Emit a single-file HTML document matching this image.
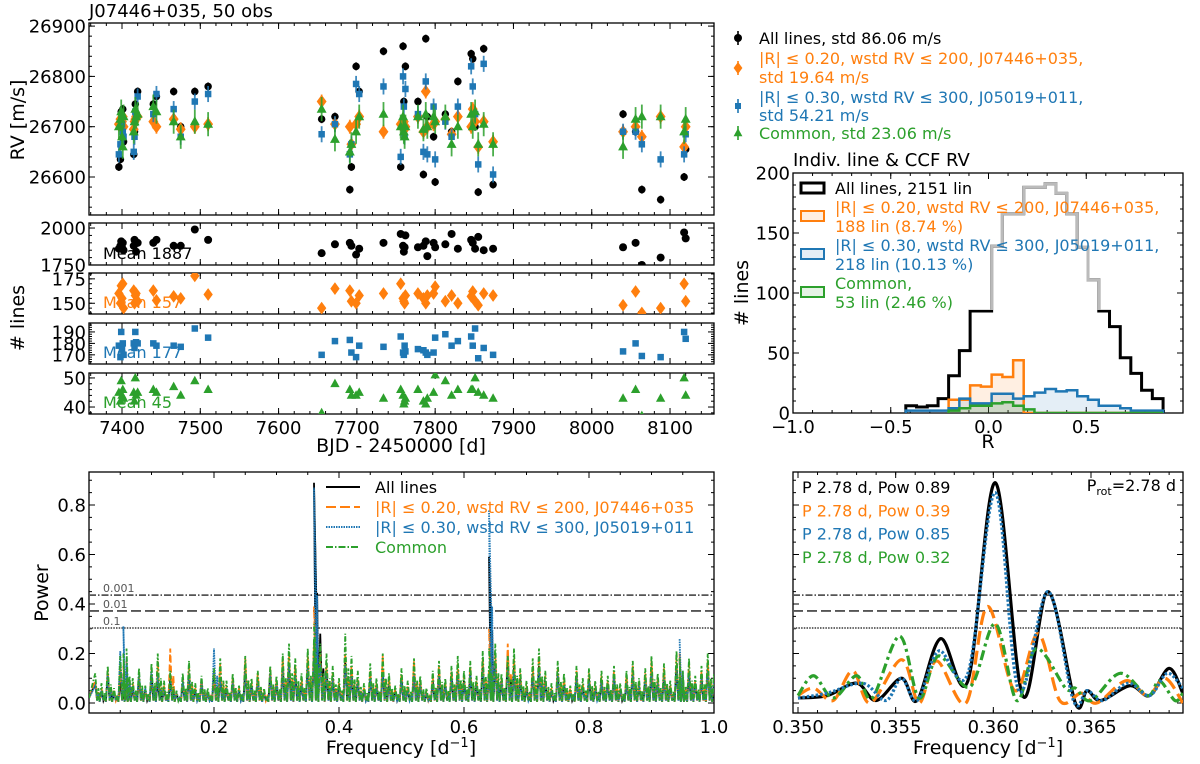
<!DOCTYPE html>
<html><head><meta charset="utf-8"><style>
html,body{margin:0;padding:0;background:#fff;}
svg{display:block;font-family:"DejaVu Sans","Liberation Sans",sans-serif;}
</style></head><body>
<svg id="chart" width="1200" height="764" viewBox="0 0 1200 764" xmlns="http://www.w3.org/2000/svg">
<defs>
<clipPath id="c-rv"><rect x="89" y="23" width="625" height="192"/></clipPath>
<clipPath id="c-hist"><rect x="793" y="173" width="390" height="240"/></clipPath>
<clipPath id="c-grey"><rect x="793" y="173" width="390" height="137"/></clipPath>
<clipPath id="c-pl"><rect x="89" y="472" width="625" height="241"/></clipPath>
<clipPath id="c-pr"><rect x="793" y="472" width="390" height="241"/></clipPath>
</defs>
<text x="89" y="17" font-size="18">J07446+035, 50 obs</text>
<text transform="translate(24,120) rotate(-90)" text-anchor="middle" font-size="19">RV [m/s]</text>
<text transform="translate(24,318) rotate(-90)" text-anchor="middle" font-size="19"># lines</text>
<text x="401" y="452" text-anchor="middle" font-size="19">BJD - 2450000 [d]</text>
<text x="793" y="166" font-size="18">Indiv. line &amp; CCF RV</text>
<text transform="translate(748,293) rotate(-90)" text-anchor="middle" font-size="19"># lines</text>
<text x="988" y="448" text-anchor="middle" font-size="19">R</text>
<text transform="translate(48,593) rotate(-90)" text-anchor="middle" font-size="19">Power</text>
<text x="401" y="754" text-anchor="middle" font-size="19">Frequency [d<tspan baseline-shift="super" font-size="13">−1</tspan>]</text>
<text x="988" y="754" text-anchor="middle" font-size="19">Frequency [d<tspan baseline-shift="super" font-size="13">−1</tspan>]</text>
</svg>
<script>
const NS='http://www.w3.org/2000/svg';
const svg=document.getElementById('chart');
function el(tag,attrs,parent){const e=document.createElementNS(NS,tag);for(const k in attrs)e.setAttribute(k,attrs[k]);(parent||svg).appendChild(e);return e;}

/* ---------- DATA ---------- */
const times=[7396,7398,7399,7400,7401,7402,7415,7416,7417,7418,7420,7440,7444,7466,7475,7493,7510,
7655,7672,7691,7693,7699,7703,7734,7756,7759,7760,7761,7762,7778,7785,7788,7790,7798,7800,7813,7821,7829,7846,7848,7851,7855,7862,7874,
8040,8056,8064,8088,8118,8120];
const rvAll=[26620,26635,26730,26720,26735,26670,26645,26690,26745,26725,26770,26745,26760,26770,26700,26770,26780,
26715,26720,26575,26620,26820,26770,26850,26620,26860,26750,26700,26820,26750,26605,26875,26720,26680,26590,26725,26690,26790,26845,26835,26700,26570,26855,26585,
26725,26690,26575,26555,26600,26655];
const rvR20=[26705,26715,26700,26710,26720,26700,26695,26710,26715,26720,26720,26710,26700,26715,26695,26700,26705,
26750,26705,26700,26665,26705,26720,26690,26705,26700,26710,26695,26700,26720,26690,26770,26700,26705,26710,26715,26685,26720,26700,26735,26710,26660,26710,26670,
26690,26700,26680,26720,26660,26700];
const rvR30=[26645,26665,26700,26705,26690,26680,26650,26680,26730,26720,26760,26725,26765,26735,26680,26750,26765,
26685,26705,26645,26665,26785,26765,26780,26640,26800,26740,26680,26775,26725,26650,26790,26645,26740,26635,26710,26680,26740,26820,26780,26725,26625,26825,26605,
26690,26690,26665,26635,26645,26685];
const rvCommon=[26700,26715,26730,26680,26660,26720,26690,26710,26735,26720,26725,26740,26730,26710,26680,26710,26705,
26735,26675,26650,26665,26690,26720,26725,26700,26720,26690,26680,26700,26720,26695,26725,26700,26720,26710,26720,26665,26700,26725,26700,26730,26665,26705,26665,
26660,26715,26720,26720,26690,26715];
const nAll=[1860,1880,1910,1870,1900,1850,1880,1920,1910,1840,1900,1900,1920,1880,1880,1990,1920,
1830,1890,1900,1880,1820,1860,1900,1960,1880,1840,1870,1950,1870,1880,1910,1810,1900,1870,1890,1960,1860,1920,1900,1860,1940,1850,1860,
1870,1900,1750,1800,1970,1930];
const nR20=[160,150,168,155,170,145,163,150,158,160,152,163,153,157,155,178,159,
145,165,163,152,150,158,160,170,155,152,150,158,160,155,150,158,160,167,152,158,150,157,162,152,148,160,158,
148,162,140,145,170,152];
const nR30=[178,168,190,175,180,170,180,176,190,181,180,180,178,178,177,193,185,
170,182,183,172,168,178,177,186,172,170,178,173,175,174,172,170,172,185,188,178,182,186,178,193,167,176,170,
173,180,169,168,190,184];
const nCommon=[45,42,49,44,46,43,45,42,50,44,45,46,45,47,44,49,46,
38,48,46,44,44,45,43,46,44,41,42,43,46,42,41,43,45,51,49,44,46,46,46,50,45,44,43,
43,46,37,43,50,44];

const binEdges=[-0.423,-0.368,-0.313,-0.258,-0.204,-0.149,-0.094,-0.039,0.016,0.071,0.126,0.180,0.235,0.290,0.345,0.400,0.454,0.509,0.564,0.619,0.674,0.728,0.783,0.838,0.893];
const histAll=[6,5,6,12,31,52,85,85,139,166,166,188,188,191,183,166,138,111,85,72,46,33,19,12];
const histR20=[0,0,0,0,11,11,23,22,32,30,44,0,0,0,0,0,0,0,0,0,0,0,0,0];
const histR30=[2,2,2,2,4,12,8,8,16,16,12,14,17,20,18,19,14,11,6,6,4,2,2,2];
const histCommon=[0,0,0,0,2,4,6,6,8,9,6,3,0,0,0,0,0,0,0,0,0,0,0,0];

const fapLevels=[0.436,0.372,0.303];
const fapLabels=['0.001','0.01','0.1'];

const pgBlack=[0.08,0.05,0.12,0.04,0.09,0.13,0.06,0.10,0.05,0.11,0.09,0.06,0.10,0.04,0.08,0.11,0.05,0.09,0.04,0.12,0.10,0.06,0.09,0.05,0.13,0.07,0.10,0.04,0.12,0.08,0.14,0.16,0.12,0.08,0.15,0.20,0.28,0.13,0.10,0.07,0.17,0.12,0.09,0.05,0.11,0.07,0.13,0.08,0.05,0.10,0.06,0.12,0.08,0.04,0.09,0.12,0.07,0.11,0.13,0.09,0.12,0.08,0.15,0.11,0.17,0.09,0.19,0.15,0.10,0.06,0.12,0.15,0.09,0.05,0.12,0.08,0.05,0.11,0.07,0.10,0.06,0.09,0.08,0.11,0.05,0.09,0.12,0.07,0.10,0.13,0.08,0.11,0.06,0.15,0.09,0.12,0.08,0.10,0.14,0.08];
const pgR20=[0.09,0.06,0.13,0.05,0.15,0.17,0.08,0.11,0.05,0.14,0.17,0.07,0.22,0.04,0.10,0.15,0.06,0.09,0.05,0.13,0.16,0.07,0.10,0.06,0.18,0.08,0.12,0.05,0.14,0.09,0.18,0.20,0.15,0.10,0.19,0.24,0.20,0.16,0.12,0.08,0.20,0.15,0.10,0.06,0.13,0.08,0.19,0.10,0.06,0.12,0.07,0.17,0.09,0.05,0.11,0.15,0.08,0.13,0.16,0.11,0.15,0.09,0.18,0.13,0.20,0.10,0.24,0.18,0.12,0.07,0.15,0.19,0.11,0.06,0.14,0.10,0.06,0.13,0.08,0.12,0.07,0.11,0.09,0.13,0.06,0.11,0.15,0.08,0.12,0.17,0.10,0.14,0.07,0.18,0.11,0.16,0.09,0.13,0.17,0.10];
const pgR30=[0.07,0.05,0.11,0.04,0.21,0.18,0.07,0.12,0.06,0.13,0.11,0.06,0.09,0.04,0.09,0.12,0.05,0.08,0.04,0.22,0.09,0.06,0.08,0.05,0.12,0.07,0.09,0.04,0.11,0.08,0.13,0.15,0.11,0.07,0.14,0.18,0.16,0.12,0.09,0.06,0.15,0.11,0.08,0.05,0.10,0.06,0.12,0.07,0.04,0.09,0.05,0.11,0.07,0.04,0.08,0.11,0.06,0.10,0.12,0.08,0.11,0.07,0.13,0.10,0.15,0.08,0.14,0.12,0.08,0.05,0.11,0.14,0.08,0.05,0.11,0.07,0.04,0.10,0.06,0.09,0.05,0.08,0.07,0.10,0.05,0.08,0.11,0.07,0.09,0.12,0.08,0.10,0.06,0.14,0.09,0.12,0.08,0.10,0.13,0.09];
const pgCommon=[0.12,0.08,0.15,0.06,0.19,0.22,0.10,0.14,0.07,0.16,0.20,0.09,0.13,0.05,0.12,0.17,0.08,0.11,0.06,0.14,0.18,0.09,0.12,0.07,0.19,0.10,0.13,0.06,0.15,0.11,0.20,0.24,0.18,0.12,0.22,0.26,0.24,0.20,0.15,0.10,0.28,0.19,0.13,0.08,0.16,0.10,0.20,0.12,0.07,0.14,0.09,0.18,0.11,0.06,0.13,0.17,0.10,0.15,0.19,0.13,0.17,0.11,0.21,0.15,0.24,0.12,0.19,0.22,0.14,0.09,0.18,0.22,0.13,0.08,0.17,0.12,0.07,0.15,0.10,0.14,0.09,0.13,0.11,0.15,0.08,0.13,0.17,0.10,0.14,0.19,0.12,0.16,0.09,0.21,0.13,0.18,0.11,0.15,0.20,0.12];
const peakFreq=[0.055,0.36,0.64,0.945];
const peakBlack=[0.12,0.89,0.59,0.18];
const peakR20=[0.15,0.39,0.30,0.20];
const peakR30=[0.31,0.87,0.78,0.26];
const peakCommon=[0.20,0.32,0.22,0.18];

const zFreqBlack=[0.3500,0.3515,0.3530,0.3540,0.3553,0.3561,0.3573,0.3587,0.3601,0.3615,0.3628,0.3642,0.3648,0.3655,0.3670,0.3680,0.3690,0.3697];
const zPowBlack=[0.02,0.03,0.08,0.01,0.10,0.01,0.26,0.09,0.89,0.03,0.45,0.00,0.05,0.01,0.07,0.03,0.14,0.04];
const zFreqR20=[0.3500,0.3508,0.3518,0.3528,0.3537,0.3553,0.3562,0.3571,0.3586,0.3597,0.3611,0.3623,0.3634,0.3645,0.3653,0.3668,0.3679,0.3688,0.3697];
const zPowR20=[0.03,0.06,0.01,0.13,0.00,0.175,0.00,0.17,0.00,0.39,0.05,0.28,0.01,0.04,0.00,0.09,0.03,0.10,0.00];
const zFreqR30=[0.3500,0.3515,0.3533,0.3545,0.3553,0.3561,0.3572,0.3587,0.3601,0.3613,0.3628,0.3641,0.3648,0.3656,0.3669,0.3680,0.3689,0.3697];
const zPowR30=[0.02,0.04,0.08,0.01,0.10,0.01,0.21,0.12,0.85,0.05,0.45,0.01,0.05,0.01,0.08,0.03,0.12,0.06];
const zFreqCommon=[0.3500,0.3508,0.3518,0.3530,0.3538,0.3552,0.3562,0.3572,0.3588,0.3601,0.3612,0.3622,0.3637,0.3642,0.3650,0.3665,0.3679,0.3685,0.3693,0.3697];
const zPowCommon=[0.03,0.11,0.02,0.11,0.02,0.27,0.02,0.19,0.065,0.32,0.01,0.22,0.06,0.06,0.01,0.12,0.03,0.09,0.01,0.04];
const zLegendTexts=['P 2.78 d, Pow 0.89','P 2.78 d, Pow 0.39','P 2.78 d, Pow 0.85','P 2.78 d, Pow 0.32'];

/* ---------- SCALES ---------- */
const C={k:'#000000',o:'#ff7f0e',b:'#1f77b4',g:'#2ca02c'};
const xT=t=>122+(t-7400)*0.7829;
const yRV=v=>177-(v-26600)*0.503;
const subs=[
 {name:'all',top:223,bot:265,lo:1750,hi:2034,ticks:[1750,2000],minor:50,data:nAll,col:C.k,mk:'circle',mean:'Mean 1887',sz:8},
 {name:'r20',top:273,bot:314,lo:139,hi:181,ticks:[150,175],minor:5,data:nR20,col:C.o,mk:'diamond',mean:'Mean 157',sz:8.5},
 {name:'r30',top:323,bot:364,lo:162,hi:197.8,ticks:[170,180,190],minor:2,data:nR30,col:C.b,mk:'square',mean:'Mean 177',sz:6.5},
 {name:'common',top:373,bot:414,lo:37.6,hi:51.7,ticks:[40,50],minor:2,data:nCommon,col:C.g,mk:'triangle',mean:'Mean 45',sz:8.5}];
const xR=r=>793+(r+1)*195.5;
const yH=c=>413-c*1.2;
const xF=f=>89+f*625;
const yP=p=>703-p*247.5;
const xZ=f=>798+(f-0.350)*19533;

/* ---------- FRAME ---------- */
function frame(name,x0,y0,x1,y1,xm,xmin,ym,ymin,xFmt,yFmt,xs,ys){
  const g=el('g',{});
  
  
  el('rect',{x:x0,y:y0,width:x1-x0,height:y1-y0,fill:'none',stroke:'#000','stroke-width':1.3},g);
  const tk=(x1a,y1a,x2a,y2a)=>el('line',{x1:x1a,y1:y1a,x2:x2a,y2:y2a,stroke:'#000','stroke-width':1},g);
  xmin.forEach(v=>{const x=xs(v);if(x<x0||x>x1)return;tk(x,y1,x,y1-3);tk(x,y0,x,y0+3);});
  ym.length&&ymin.forEach(v=>{const y=ys(v);if(y<y0||y>y1)return;tk(x0,y,x0+3,y);tk(x1,y,x1-3,y);});
  xm.forEach(v=>{const x=xs(v);if(x<x0-0.5||x>x1+0.5)return;tk(x,y1,x,y1-6);tk(x,y0,x,y0+6);
    if(xFmt){const t=el('text',{x:x,y:y1+20,'text-anchor':'middle','font-size':18},g);t.textContent=xFmt(v);
    
    }});
  ym.forEach(v=>{const y=ys(v);if(y<y0-0.5||y>y1+0.5)return;tk(x0,y,x0+6,y);tk(x1,y,x1-6,y);
    if(yFmt){const t=el('text',{x:x0-3,y:y+6.5,'text-anchor':'end','font-size':18},g);t.textContent=yFmt(v);
    
    }});
  return g;
}
const range=(a,b,s)=>{const r=[];for(let v=a;v<=b+s/1e3;v+=s)r.push(+v.toFixed(6));return r;};

/* ---------- MARKERS ---------- */
function marker(g,kind,x,y,col,s){
  let m;
  if(kind==='circle')m=el('circle',{cx:x,cy:y,r:s*0.5,fill:col},g);
  else if(kind==='diamond')m=el('polygon',{points:`${x},${y-s*0.75} ${x+s*0.55},${y} ${x},${y+s*0.75} ${x-s*0.55},${y}`,fill:col},g);
  else if(kind==='square')m=el('rect',{x:x-s*0.5,y:y-s*0.5,width:s,height:s,fill:col},g);
  else m=el('polygon',{points:`${x},${y-s*0.6} ${x+s*0.55},${y+s*0.4} ${x-s*0.55},${y+s*0.4}`,fill:col},g);
  return m;
}

/* ---------- RV PANEL ---------- */
frame('rv',89,23,714,215,range(7400,8100,100),range(7360,8140,20),range(26600,26900,100),range(26520,26900,20),null,v=>v,xT,yRV);
const rvSeries=[[rvAll,C.k,'circle',7.5,8],[rvR20,C.o,'diamond',9,14],[rvR30,C.b,'square',6.5,16],[rvCommon,C.g,'triangle',9,24]];
const rvG=el('g',{'clip-path':'url(#c-rv)'});


rvSeries.forEach(([arr,col,mk,sz,err])=>{
  const n=Math.min(arr.length,times.length);
  for(let i=0;i<n;i++){
    const x=xT(times[i]),y=yRV(arr[i]);
    const eb=el('line',{x1:x,x2:x,y1:yRV(arr[i]+err),y2:yRV(arr[i]-err),stroke:col,'stroke-width':1.8,opacity:0.85},rvG);
    
    
    const m=marker(rvG,mk,x,y,col,sz);
    
    
  }
});

/* ---------- COUNT SUBPANELS ---------- */
subs.forEach((s,si)=>{
  const ys=v=>s.bot-(v-s.lo)/(s.hi-s.lo)*(s.bot-s.top);
  frame('lines-'+s.name,89,s.top,714,s.bot,range(7400,8100,100),range(7360,8140,20),s.ticks,range(Math.ceil(s.lo/s.minor)*s.minor,s.hi,s.minor),si===3?(v=>v):null,v=>v,xT,ys);
  const cp=el('clipPath',{id:'c-s'+si});el('rect',{x:89,y:s.top,width:625,height:s.bot-s.top},cp);
  const g=el('g',{'clip-path':'url(#c-s'+si+')'});
  
  
  const n=Math.min(s.data.length,times.length);
  for(let i=0;i<n;i++){
    const m=marker(g,s.mk,xT(times[i]),ys(s.data[i]),s.col,s.sz);
    
    
  }
  const t=el('text',{x:103,y:s.bot-6,'font-size':16,fill:s.col});
  t.textContent=s.mean;
  
  
});

/* ---------- TOP RIGHT LEGEND ---------- */
const legRows=[
 [C.k,'circle',[['All lines, std 86.06 m/s',38]],38],
 [C.o,'diamond',[['|R| ≤  0.20, wstd RV ≤  200, J07446+035,',58],['std 19.64 m/s',77]],68],
 [C.b,'square',[['|R| ≤  0.30, wstd RV ≤  300, J05019+011,',97],['std 54.21 m/s',115]],106],
 [C.g,'triangle',[['Common, std 23.06 m/s',133]],133]];
legRows.forEach(([col,mk,lines,my])=>{
  const g=el('g',{});
  
  
  el('line',{x1:738,x2:738,y1:my-7,y2:my+7,stroke:col,'stroke-width':1.6},g);
  marker(g,mk,738,my,col,mk==='square'?6:8);
  lines.forEach(([txt,y])=>{const t=el('text',{x:759,y:y+6,'font-size':16,fill:col},g);t.textContent=txt;});
});

/* ---------- HISTOGRAM ---------- */
frame('hist',793,173,1183,413,range(-1,1,0.5),range(-1,1,0.1),range(0,200,50),range(0,200,10),v=>v===0?'0.0':(v<0?'−':'')+Math.abs(v).toFixed(1),v=>v,xR,yH);
function stepPath(counts){
  let d='',started=false;
  for(let i=0;i<counts.length;i++){
    if(!counts[i]&&!started)continue;
    const xa=xR(binEdges[i]),xb=xR(binEdges[i+1]),y=yH(counts[i]);
    if(!started){d+=`M${xa},${yH(0)} `;started=true;}
    d+=`L${xa},${y} L${xb},${y} `;
  }
  let last=counts.length-1;while(last>0&&!counts[last])last--;
  d+=`L${xR(binEdges[last+1])},${yH(0)}`;
  return d;
}
const hg=el('g',{'clip-path':'url(#c-hist)'});


[[histR20,C.o,'hist-r20'],[histR30,C.b,'hist-r30'],[histCommon,C.g,'hist-common']].forEach(([h,col,nm])=>{
  const f=el('path',{d:stepPath(h)+' Z',fill:col,'fill-opacity':0.12,stroke:'none'},hg);
  
  
});
const ha=el('path',{d:stepPath(histAll),fill:'none',stroke:'#000','stroke-width':3},hg);


const hgr=el('path',{d:stepPath(histAll),fill:'none',stroke:'#bbbbbb','stroke-width':3,'clip-path':'url(#c-grey)'},hg);


[[histR20,C.o,'hist-r20'],[histR30,C.b,'hist-r30'],[histCommon,C.g,'hist-common']].forEach(([h,col,nm])=>{
  const p=el('path',{d:stepPath(h),fill:'none',stroke:col,'stroke-width':2.5},hg);
  
  
});
const hLeg=[[C.k,'All lines, 2151 lin',null,188,true],[C.o,'|R| ≤  0.20, wstd RV ≤  200, J07446+035,','188 lin (8.74 %)',216],
 [C.b,'|R| ≤  0.30, wstd RV ≤  300, J05019+011,','218 lin (10.13 %)',254],[C.g,'Common,','53 lin (2.46 %)',292]];
hLeg.forEach(([col,a,b,yc,thick])=>{
  const g=el('g',{});
  
  
  el('rect',{x:801,y:yc-5,width:23,height:10,fill:thick?'none':col,'fill-opacity':0.12,stroke:col,'stroke-width':thick?3:2},g);
  if(b){const t1=el('text',{x:835,y:yc-3,'font-size':16,fill:col},g);t1.textContent=a;
        const t2=el('text',{x:835,y:yc+16,'font-size':16,fill:col},g);t2.textContent=b;}
  else{const t=el('text',{x:835,y:yc+6,'font-size':16,fill:col},g);t.textContent=a;}
});

/* ---------- PERIODOGRAM LEFT ---------- */
frame('pgram',89,472,714,713,range(0.2,1.0,0.2),range(0.05,1.0,0.05),range(0,0.8,0.2),range(0,0.9,0.05),v=>v.toFixed(1),v=>v.toFixed(1),xF,yP);
const pl=el('g',{'clip-path':'url(#c-pl)'});


const fapDash=['7,2,1.5,2','10,4','1.5,1.2'];
fapLevels.forEach((v,i)=>{
  const l=el('line',{x1:89,x2:714,y1:yP(v),y2:yP(v),stroke:'#555','stroke-width':1.8,'stroke-dasharray':fapDash[i]},pl);
  
  
  const t=el('text',{x:103,y:yP(v)-3,'font-size':11,fill:'#555'});t.textContent=fapLabels[i];
  
  
});
function pgPath(vals,peaks){
  const pts=vals.map((v,i)=>[(i+1)*0.01,v]);
  peaks.forEach((p,i)=>pts.push([peakFreq[i],p]));
  pts.sort((a,b)=>a[0]-b[0]);
  let d=`M${xF(0)},${yP(0.02)}`;
  pts.forEach(([f,v])=>{d+=` L${xF(f)},${yP(v)} L${xF(f+0.003)},${yP(0.01)} L${xF(f+0.005)},${yP(v*0.5)} L${xF(f+0.007)},${yP(0.005)}`;});
  return d;
}
[[pgBlack,peakBlack,C.k,'none',1.8,'pgram-all'],[pgR20,peakR20,C.o,'7,3',1.8,'pgram-r20'],[pgR30,peakR30,C.b,'1.5,1',1.8,'pgram-r30'],[pgCommon,peakCommon,C.g,'5,2,1.5,2',1.8,'pgram-common']].forEach(([v,p,col,da,w,nm])=>{
  const path=el('path',{d:pgPath(v,p),fill:'none',stroke:col,'stroke-width':w,'stroke-dasharray':da},pl);
  
  
});
const pLeg=[[C.k,'none','All lines'],[C.o,'10,4','|R| ≤  0.20, wstd RV ≤  200, J07446+035'],[C.b,'1.5,1','|R| ≤  0.30, wstd RV ≤  300, J05019+011'],[C.g,'7,2,1.5,2','Common']];
pLeg.forEach(([col,da,txt],i)=>{
  const g=el('g',{});
  
  
  const y=487+i*20;
  el('line',{x1:326,x2:360,y1:y,y2:y,stroke:col,'stroke-width':2,'stroke-dasharray':da},g);
  const t=el('text',{x:375,y:y+6,'font-size':16,fill:col},g);t.textContent=txt;
});

/* ---------- PERIODOGRAM ZOOM ---------- */
frame('pgram-zoom',793,472,1183,713,range(0.35,0.365,0.005),range(0.350,0.369,0.001),range(0,0.8,0.2),range(0,0.9,0.05),v=>v.toFixed(3),null,xZ,yP);
const pr=el('g',{'clip-path':'url(#c-pr)'});


fapLevels.forEach((v,i)=>{
  const l=el('line',{x1:793,x2:1183,y1:yP(v),y2:yP(v),stroke:'#555','stroke-width':1.8,'stroke-dasharray':fapDash[i]},pr);
  
  
});
function smooth(fs,ps){
  const P=fs.map((f,i)=>[xZ(f),yP(ps[i])]);
  let d=`M${P[0][0]},${P[0][1]}`;
  for(let i=0;i<P.length-1;i++){
    const p0=P[Math.max(0,i-1)],p1=P[i],p2=P[i+1],p3=P[Math.min(P.length-1,i+2)];
    const c1=[p1[0]+(p2[0]-p0[0])/6,p1[1]+(p2[1]-p0[1])/6],c2=[p2[0]-(p3[0]-p1[0])/6,p2[1]-(p3[1]-p1[1])/6];
    d+=` C${c1[0]},${c1[1]} ${c2[0]},${c2[1]} ${p2[0]},${p2[1]}`;
  }
  return d;
}
[[zFreqBlack,zPowBlack,C.k,'none',3.2,'zoom-all'],[zFreqR20,zPowR20,C.o,'14,6',3.2,'zoom-r20'],[zFreqCommon,zPowCommon,C.g,'10,4,3,4',3.2,'zoom-common'],[zFreqR30,zPowR30,C.b,'2.5,2',3.2,'zoom-r30']].forEach(([f,p,col,da,w,nm])=>{
  const path=el('path',{d:smooth(f,p),fill:'none',stroke:col,'stroke-width':w,'stroke-dasharray':da},pr);
  
  
});
[C.k,C.o,C.b,C.g].forEach((col,i)=>{
  const t=el('text',{x:802,y:493+i*23.3,'font-size':16,fill:col});t.textContent=zLegendTexts[i];
  
  
});
const pt=el('text',{x:1176,y:491,'font-size':16,'text-anchor':'end'});


pt.innerHTML='P<tspan font-size="11" dy="4">rot</tspan><tspan dy="-4">=2.78 d</tspan>';
</script>
</body></html>
